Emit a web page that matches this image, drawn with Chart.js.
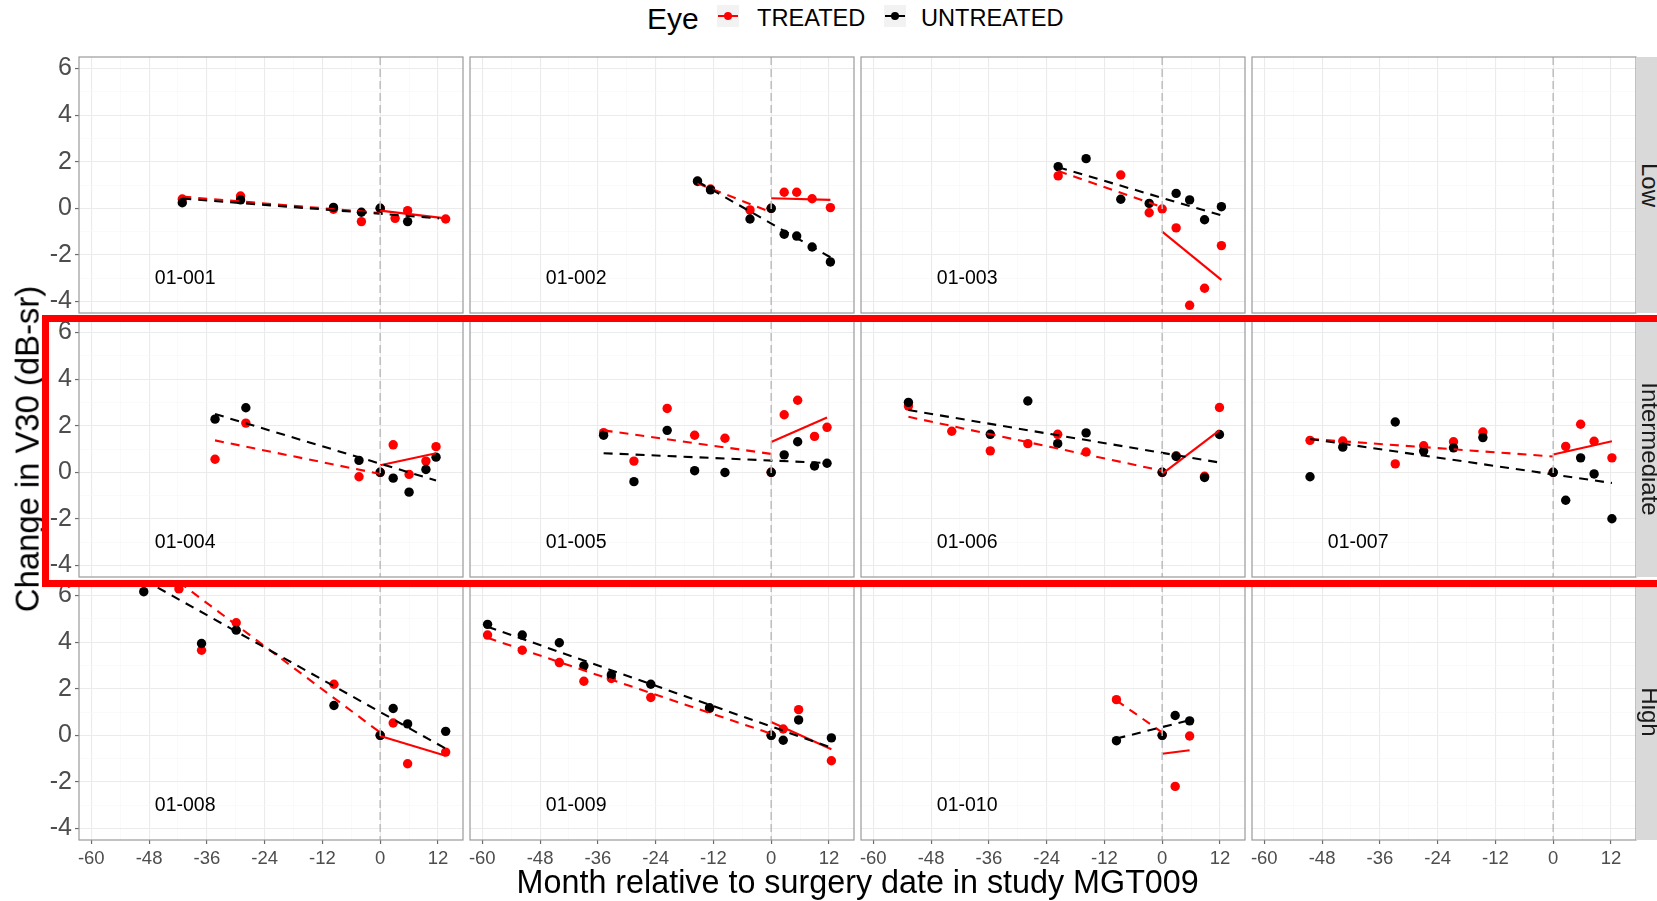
<!DOCTYPE html>
<html><head><meta charset="utf-8">
<script src="https://cdn.jsdelivr.net/npm/chart.js@4.4.1/dist/chart.umd.min.js"></script>
<style>
html,body{margin:0;padding:0;background:#fff;width:1657px;height:901px;overflow:hidden;font-family:"Liberation Sans",Arial,sans-serif;}
#root{position:relative;width:1657px;height:901px;overflow:hidden;}
canvas{position:absolute;z-index:1;}
.abs{position:absolute;white-space:nowrap;line-height:1;}
</style></head><body>
<div id="root"></div>
<script>
// ---------------- DATA ----------------
const rowLabels = ['Low', 'Intermediate', 'High'];
const legendTitle = 'Eye';
const seriesNames = ['TREATED', 'UNTREATED'];
const xTitle = 'Month relative to surgery date in study MGT009';
const yTitle = 'Change in V30 (dB-sr)';
const xMajor = [-60, -48, -36, -24, -12, 0, 12];
const xMinor = [-54, -42, -30, -18, -6, 6];
const yMajor = [-4, -2, 0, 2, 4, 6];
const yMinor = [-3, -1, 1, 3, 5];
const xLimits = [-62.55, 17.2];
const yLimits = [-4.49, 6.49];
const surgeryMonth = [0];
const labelAt = [-40.5, -3];

const treated_001 = [[-41.1,0.40],[-29.0,0.53],[-9.7,-0.04],[-3.9,-0.57],[0,0],[3.1,-0.43],[5.7,-0.10],[13.6,-0.46]];
const untreated_001 = [[-41.1,0.24],[-29.0,0.36],[-9.7,0.04],[-3.9,-0.17],[0,0],[5.7,-0.57]];
const fitUntreated_001 = [[-41.1,0.42],[12.2,-0.43]];
const fitTreatedPre_001 = [[-41.1,0.50],[0,-0.20]];
const fitTreatedPost_001 = [[0,-0.10],[13.6,-0.43]];

const treated_002 = [[-15.3,1.15],[-12.6,0.83],[-4.4,-0.07],[0,0],[2.7,0.69],[5.3,0.69],[8.5,0.41],[12.3,0.03]];
const untreated_002 = [[-15.3,1.17],[-12.6,0.79],[-4.4,-0.46],[0,0],[2.7,-1.11],[5.3,-1.19],[8.5,-1.66],[12.3,-2.30]];
const fitUntreated_002 = [[-15.3,1.15],[12.3,-2.10]];
const fitTreatedPre_002 = [[-15.3,1.07],[0,-0.17]];
const fitTreatedPost_002 = [[0,0.43],[12.3,0.36]];

const treated_003 = [[-21.6,1.39],[-8.6,1.43],[-2.7,-0.19],[0,-0.03],[2.9,-0.84],[5.7,-4.16],[8.8,-3.43],[12.3,-1.60]];
const untreated_003 = [[-21.6,1.79],[-15.8,2.13],[-8.6,0.39],[-2.7,0.21],[2.9,0.64],[5.7,0.36],[8.8,-0.49],[12.3,0.07]];
const fitUntreated_003 = [[-21.6,1.76],[12.3,-0.30]];
const fitTreatedPre_003 = [[-21.6,1.60],[0,0.05]];
const fitTreatedPost_003 = [[0,-1.00],[12.3,-3.07]];

const treated_004 = [[-34.3,0.56],[-27.9,2.11],[-4.4,-0.19],[0,0],[2.7,1.18],[6.0,-0.09],[9.5,0.48],[11.6,1.10]];
const untreated_004 = [[-34.3,2.28],[-27.9,2.77],[-4.4,0.51],[0,0],[2.7,-0.25],[6.0,-0.85],[9.5,0.12],[11.6,0.65]];
const fitUntreated_004 = [[-34.3,2.50],[11.6,-0.35]];
const fitTreatedPre_004 = [[-34.3,1.37],[0,-0.07]];
const fitTreatedPost_004 = [[0,0.30],[11.6,0.82]];

const treated_005 = [[-34.8,1.70],[-28.5,0.48],[-21.6,2.74],[-15.9,1.59],[-9.6,1.46],[0,0],[2.7,2.47],[5.5,3.09],[9.0,1.54],[11.6,1.93]];
const untreated_005 = [[-34.8,1.59],[-28.5,-0.40],[-21.6,1.80],[-15.9,0.07],[-9.6,-0.01],[0,0],[2.7,0.75],[5.5,1.31],[9.0,0.27],[11.6,0.39]];
const fitUntreated_005 = [[-34.8,0.82],[11.6,0.40]];
const fitTreatedPre_005 = [[-34.8,1.80],[0,0.79]];
const fitTreatedPost_005 = [[0,1.30],[11.6,2.35]];

const treated_006 = [[-52.7,2.84],[-43.7,1.76],[-35.7,0.92],[-27.9,1.23],[-21.7,1.63],[-15.8,0.87],[0,0],[2.9,0.71],[8.8,-0.17],[11.9,2.78]];
const untreated_006 = [[-52.7,3.00],[-35.7,1.63],[-27.9,3.06],[-21.7,1.23],[-15.8,1.69],[0,0],[2.9,0.68],[8.8,-0.22],[11.9,1.62]];
const fitUntreated_006 = [[-52.7,2.67],[11.9,0.42]];
const fitTreatedPre_006 = [[-52.7,2.38],[0,0.07]];
const fitTreatedPost_006 = [[0,-0.07],[11.9,1.80]];

const treated_007 = [[-50.5,1.37],[-43.7,1.34],[-32.8,0.36],[-26.9,1.14],[-20.7,1.31],[-14.6,1.73],[0,0],[2.6,1.11],[5.7,2.06],[8.5,1.33],[12.2,0.62]];
const untreated_007 = [[-50.5,-0.19],[-43.7,1.08],[-32.8,2.16],[-26.9,0.91],[-20.7,1.05],[-14.6,1.49],[0,0],[2.6,-1.20],[5.7,0.62],[8.5,-0.07],[12.2,-1.99]];
const fitUntreated_007 = [[-50.5,1.43],[12.2,-0.46]];
const fitTreatedPre_007 = [[-50.5,1.43],[0,0.68]];
const fitTreatedPost_007 = [[0,0.76],[12.2,1.33]];

const treated_008 = [[-41.8,6.28],[-37.1,3.65],[-29.9,4.83],[-9.6,2.19],[0,0],[2.7,0.53],[5.7,-1.22],[13.6,-0.72]];
const untreated_008 = [[-49.1,6.16],[-37.1,3.94],[-29.9,4.51],[-9.6,1.28],[0,0],[2.7,1.15],[5.7,0.49],[13.6,0.17]];
const fitUntreated_008 = [[-49.1,6.67],[13.6,-0.57]];
const fitTreatedPre_008 = [[-41.8,6.57],[0,0.12]];
const fitTreatedPost_008 = [[0,-0.03],[13.6,-0.88]];

const treated_009 = [[-58.9,4.30],[-51.7,3.65],[-44.0,3.12],[-38.9,2.32],[-33.2,2.44],[-25.0,1.62],[-12.8,1.15],[0,0],[2.5,0.27],[5.7,1.10],[12.5,-1.09]];
const untreated_009 = [[-58.9,4.76],[-51.7,4.30],[-44.0,3.97],[-38.9,2.98],[-33.2,2.59],[-25.0,2.19],[-12.8,1.18],[0,0],[2.5,-0.21],[5.7,0.66],[12.5,-0.11]];
const fitUntreated_009 = [[-58.9,4.66],[12.5,-0.53]];
const fitTreatedPre_009 = [[-58.9,4.18],[0,0.07]];
const fitTreatedPost_009 = [[0,0.57],[12.5,-0.60]];

const treated_010 = [[-9.5,1.53],[0,0],[2.7,-2.19],[5.7,-0.03]];
const untreated_010 = [[-9.5,-0.23],[0,0],[2.7,0.85],[5.7,0.62]];
const fitUntreated_010 = [[-9.5,-0.14],[5.7,0.65]];
const fitTreatedPre_010 = [[-9.5,1.50],[0,0.12]];
const fitTreatedPost_010 = [[0,-0.79],[5.7,-0.64]];

// panel grid (row-major, 3 rows x 4 columns)
const panelIds = ['01-001','01-002','01-003',null,'01-004','01-005','01-006','01-007','01-008','01-009','01-010',null];
const panelSeries = {
  '01-001':[treated_001,untreated_001,fitUntreated_001,fitTreatedPre_001,fitTreatedPost_001],
  '01-002':[treated_002,untreated_002,fitUntreated_002,fitTreatedPre_002,fitTreatedPost_002],
  '01-003':[treated_003,untreated_003,fitUntreated_003,fitTreatedPre_003,fitTreatedPost_003],
  '01-004':[treated_004,untreated_004,fitUntreated_004,fitTreatedPre_004,fitTreatedPost_004],
  '01-005':[treated_005,untreated_005,fitUntreated_005,fitTreatedPre_005,fitTreatedPost_005],
  '01-006':[treated_006,untreated_006,fitUntreated_006,fitTreatedPre_006,fitTreatedPost_006],
  '01-007':[treated_007,untreated_007,fitUntreated_007,fitTreatedPre_007,fitTreatedPost_007],
  '01-008':[treated_008,untreated_008,fitUntreated_008,fitTreatedPre_008,fitTreatedPost_008],
  '01-009':[treated_009,untreated_009,fitUntreated_009,fitTreatedPre_009,fitTreatedPost_009],
  '01-010':[treated_010,untreated_010,fitUntreated_010,fitTreatedPre_010,fitTreatedPost_010]
};

// ---------------- LAYOUT / STYLE ----------------
const FONT = '"Liberation Sans", Arial, sans-serif';
Chart.defaults.font.family = FONT;
const PL = [79, 470, 861, 1252];
const PT = [57, 321, 584];
const PW = 384, PH = 256;
const RED = '#FF0000', BLACK = '#000000';
const root = document.getElementById('root');

function pts(a){ return a.map(([x,y]) => ({x, y})); }

const panelDeco = {
  id: 'panelDeco',
  afterDatasetsDraw(chart, args, opts) {
    const {ctx, chartArea: a, scales} = chart;
    const x = scales.x, y = scales.y;
    ctx.save();
    ctx.beginPath(); ctx.rect(a.left, a.top, a.width, a.height); ctx.clip();
    surgeryMonth.forEach(m => {
      const px = x.getPixelForValue(m);
      ctx.strokeStyle = '#bdbdbd'; ctx.lineWidth = 1.5; ctx.setLineDash([8, 4]);
      ctx.beginPath(); ctx.moveTo(px, a.top); ctx.lineTo(px, a.bottom); ctx.stroke();
    });
    ctx.setLineDash([]);
    if (opts.label) {
      ctx.fillStyle = '#000'; ctx.font = '19.5px ' + FONT;
      ctx.textAlign = 'center'; ctx.textBaseline = 'middle';
      ctx.fillText(opts.label, x.getPixelForValue(labelAt[0]), y.getPixelForValue(labelAt[1]));
    }
    ctx.restore();
    ctx.save();
    ctx.strokeStyle = '#9a9a9a'; ctx.lineWidth = 1.2;
    ctx.strokeRect(a.left, a.top, a.width, a.height);
    ctx.restore();
  }
};

function zeroPad(s) { s.paddingLeft = 0; s.paddingRight = 0; s.paddingTop = 0; s.paddingBottom = 0; }

function makePanel(row, col, id) {
  const isLeft = col === 0, isBottom = row === 2;
  const axisW = isLeft ? PL[0] : 0;
  const axisH = isBottom ? 45 : 0;
  const padL = isLeft ? 0 : 2;
  const left = PL[col] - padL - axisW;
  const top = PT[row] - 2;
  const w = axisW + padL + PW + 2;
  const h = 2 + PH + (isBottom ? axisH : 2);
  const cv = document.createElement('canvas');
  cv.width = w; cv.height = h;
  cv.style.left = left + 'px'; cv.style.top = top + 'px';
  cv.style.width = w + 'px'; cv.style.height = h + 'px';
  root.appendChild(cv);

  const datasets = [];
  if (id) {
    const [t, u, fu, fpre, fpost] = panelSeries[id];
    datasets.push({type:'line', data: pts(fu), borderColor: BLACK, borderWidth: 2.1, borderDash:[9,7], pointRadius:0, fill:false, order:0});
    datasets.push({type:'line', data: pts(fpre), borderColor: RED, borderWidth: 2.1, borderDash:[9,7], pointRadius:0, fill:false, order:1});
    datasets.push({type:'line', data: pts(fpost), borderColor: RED, borderWidth: 2.1, pointRadius:0, fill:false, order:2});
    datasets.push({type:'scatter', label: seriesNames[1], data: pts(u), backgroundColor: BLACK, borderWidth:0, pointRadius:4.7, order:3});
    datasets.push({type:'scatter', label: seriesNames[0], data: pts(t), backgroundColor: RED, borderWidth:0, pointRadius:4.7, order:4});
  }
  const isMajor = c => c.tick && (c.scale.axis === 'x' ? c.tick.value % 12 === 0 : c.tick.value % 2 === 0);
  const gridColor = c => isMajor(c) ? '#ebebeb' : '#f6f6f6';
  const gridWidth = c => isMajor(c) ? 1.1 : 0.6;
  const tickColor = c => isMajor(c) ? '#6b6b6b' : 'rgba(0,0,0,0)';

  new Chart(cv, {
    type: 'scatter',
    data: { datasets },
    plugins: [panelDeco],
    options: {
      responsive: false, animation: false, devicePixelRatio: 1, events: [],
      layout: { autoPadding: false, padding: { left: padL, top: 2, right: 2, bottom: isBottom ? 0 : 2 } },
      plugins: { legend: {display:false}, tooltip: {enabled:false}, panelDeco: { label: id } },
      scales: {
        x: {
          type: 'linear', min: xLimits[0], max: xLimits[1],
          afterBuildTicks: s => { s.ticks = xMajor.concat(xMinor).sort((a,b)=>a-b).map(v => ({value: v})); },
          afterFit: s => { s.height = axisH; zeroPad(s); },
          border: { display: false },
          grid: { color: gridColor, lineWidth: gridWidth, drawTicks: isBottom, tickLength: 4, tickColor: tickColor, tickWidth: 1.2 },
          ticks: { display: isBottom, autoSkip: false, maxRotation: 0, minRotation: 0, padding: 4, color: '#4d4d4d',
                   font: { family: FONT, size: 18.5 },
                   callback: v => (xMajor.includes(v) ? String(v) : '') }
        },
        y: {
          type: 'linear', min: yLimits[0], max: yLimits[1],
          afterBuildTicks: s => { s.ticks = yMajor.concat(yMinor).sort((a,b)=>a-b).map(v => ({value: v})); },
          afterFit: s => { s.width = axisW; zeroPad(s); },
          border: { display: false },
          grid: { color: gridColor, lineWidth: gridWidth, drawTicks: isLeft, tickLength: 4, tickColor: tickColor, tickWidth: 1.2 },
          ticks: { display: isLeft, autoSkip: false, padding: 3, color: '#4d4d4d',
                   font: { family: FONT, size: 25 },
                   callback: v => (yMajor.includes(v) ? String(v) : '') }
        }
      }
    }
  });
}

for (let r = 0; r < 3; r++) for (let c = 0; c < 4; c++) makePanel(r, c, panelIds[r * 4 + c]);

// strips
rowLabels.forEach((lab, r) => {
  const s = document.createElement('div');
  s.className = 'abs';
  s.style.cssText = `left:1636px;top:${PT[r]}px;width:30px;height:${PH}px;background:#d9d9d9;z-index:2;`;
  root.appendChild(s);
  const t = document.createElement('div');
  t.className = 'abs';
  t.textContent = lab;
  t.style.cssText = `left:1649.5px;top:${PT[r] + PH/2}px;font-size:24px;color:#1a1a1a;transform:translate(-50%,-50%) rotate(90deg);z-index:3;`;
  root.appendChild(t);
});

// axis titles
const xt = document.createElement('div');
xt.className = 'abs'; xt.textContent = xTitle;
xt.style.cssText = 'left:857.7px;top:866px;font-size:32.3px;color:#000;transform:translateX(-50%);z-index:3;';
root.appendChild(xt);
const yt = document.createElement('div');
yt.className = 'abs'; yt.textContent = yTitle;
yt.style.cssText = 'left:28px;top:449px;font-size:32.8px;color:#000;transform:translate(-50%,-50%) rotate(-90deg);z-index:3;';
root.appendChild(yt);

// legend
function addText(txt, left, top, size) {
  const d = document.createElement('div');
  d.className = 'abs'; d.textContent = txt;
  d.style.cssText = `left:${left}px;top:${top}px;font-size:${size}px;color:#000;z-index:3;`;
  root.appendChild(d);
}
function addKey(left, color) {
  const k = document.createElement('div');
  k.className = 'abs';
  k.style.cssText = `left:${left}px;top:5px;width:22px;height:22px;background:#f2f2f2;z-index:3;`;
  const ln = document.createElement('div');
  ln.style.cssText = `position:absolute;left:1px;top:10px;width:20px;height:2px;background:${color};`;
  const dot = document.createElement('div');
  dot.style.cssText = `position:absolute;left:6.7px;top:6.7px;width:8.6px;height:8.6px;border-radius:50%;background:${color};`;
  k.appendChild(ln); k.appendChild(dot);
  root.appendChild(k);
}
addText(legendTitle, 647, 4.2, 30);
addKey(717, RED);
addText(seriesNames[0], 757, 6.8, 23.6);
addKey(884, BLACK);
addText(seriesNames[1], 921, 6.8, 23.6);

// red highlight box
const box = document.createElement('div');
box.className = 'abs';
box.style.cssText = 'left:42px;top:315px;width:1640px;height:258px;border:7.3px solid #FF0000;z-index:10;';
root.appendChild(box);
</script>
</body></html>
